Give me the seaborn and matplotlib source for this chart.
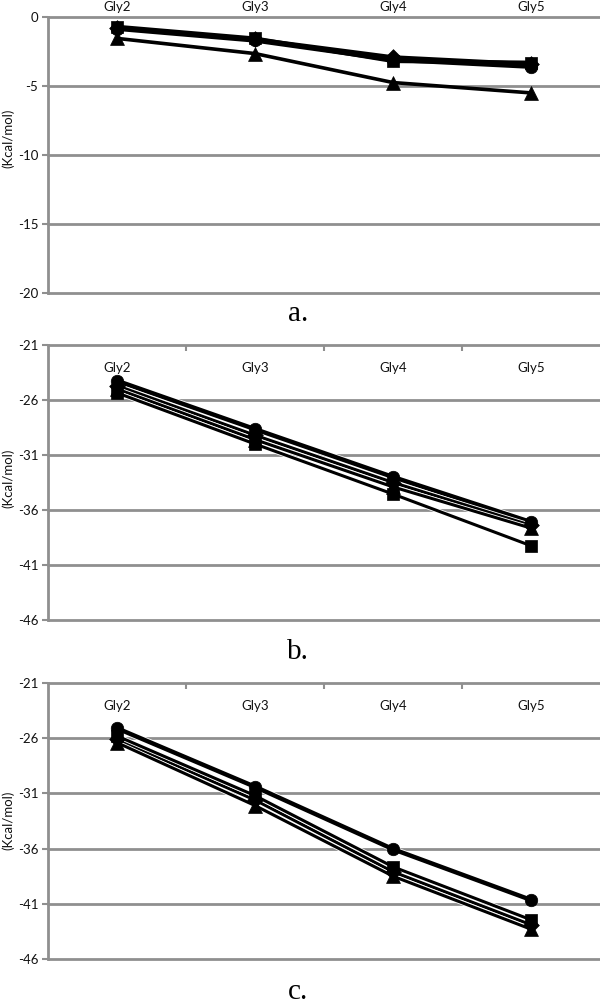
import numpy as np
import pandas as pd
import seaborn as sns
import matplotlib
matplotlib.use("Agg")
import matplotlib.pyplot as plt
import matplotlib.patheffects as pe

# ---------------- data ----------------
categories = ["Gly2", "Gly3", "Gly4", "Gly5"]

# panel a
a_circle = [-0.85, -1.70, -3.10, -3.60]
a_diamond = [-0.80, -1.60, -2.90, -3.40]
a_triangle = [-1.55, -2.65, -4.75, -5.50]
a_square = [-0.70, -1.55, -3.20, -3.30]

# panel b
b_circle = [-24.25, -28.65, -33.00, -37.10]
b_diamond = [-24.70, -29.20, -33.50, -37.40]
b_triangle = [-25.00, -29.60, -33.90, -37.65]
b_square = [-25.35, -30.00, -34.55, -39.25]

# panel c
c_circle = [-25.10, -30.40, -36.05, -40.65]
c_square = [-25.80, -31.20, -37.65, -42.45]
c_diamond = [-26.10, -31.60, -38.10, -42.90]
c_triangle = [-26.40, -32.10, -38.50, -43.30]

a_ticks = [0, -5, -10, -15, -20]
bc_ticks = [-21, -26, -31, -36, -41, -46]
panel_letters = ["a.", "b.", "c."]
y_title = "(Kcal/mol)"

sns.set_theme(style="white")
plt.rcParams["font.family"] = ["Lato", "DejaVu Sans"]

W, H = 600, 1008
fig = plt.figure(figsize=(W / 100, H / 100), dpi=100)

GRID = "#8f8f8f"

def fy(px):
    return 1 - px / H

panels = [
    dict(top=17, bot=293, ticks=a_ticks,
         series=[("o", a_circle, 3.2, 9), ("D", a_diamond, 2.6, 8), ("^", a_triangle, 2.6, 10), ("s", a_square, 2.8, 9)],
         inside=False, letter_y=314, ylab_y=138, halo=False),
    dict(top=345, bot=620, ticks=bc_ticks,
         series=[("o", b_circle, 3.2, 9), ("D", b_diamond, 2.2, 8), ("^", b_triangle, 2.2, 10), ("s", b_square, 2.2, 9)],
         inside=True, letter_y=652, ylab_y=478, halo=True),
    dict(top=683, bot=959, ticks=bc_ticks,
         series=[("o", c_circle, 3.2, 9), ("D", c_diamond, 2.2, 8), ("^", c_triangle, 2.2, 10), ("s", c_square, 2.2, 9)],
         inside=True, letter_y=992, ylab_y=820, halo=True),
]

for i, p in enumerate(panels):
    ax = fig.add_axes([48 / W, fy(p["bot"]), 1 - 48 / W, (p["bot"] - p["top"]) / H])
    # lines first
    for marker, vals, lw, ms in p["series"]:
        df = pd.DataFrame({"cat": categories, "val": vals})
        effects = ([pe.Stroke(linewidth=lw + 1.2, foreground="white"), pe.Normal()]
                   if p["halo"] else None)
        sns.lineplot(data=df, x="cat", y="val", ax=ax, color="black", lw=lw, sort=False,
                     path_effects=effects)
    # markers on top
    for marker, vals, lw, ms in p["series"]:
        df = pd.DataFrame({"cat": categories, "val": vals})
        sns.scatterplot(data=df, x="cat", y="val", ax=ax, color="black", marker=marker,
                        s=ms ** 2, edgecolor="black", linewidth=0.5, zorder=5)
    ax.set_xlim(-0.5, 3.5)
    ax.set_ylim(min(p["ticks"]), max(p["ticks"]))
    ax.set_yticks(p["ticks"])
    ax.set_yticklabels([str(t) for t in p["ticks"]])
    ax.set_xlabel("")
    ax.set_ylabel("")
    ax.grid(False)
    ax.yaxis.grid(True, color=GRID, lw=2.0)
    ax.set_axisbelow(True)
    for gl in ax.get_ygridlines():
        gl.set_clip_on(False)
    for s in ["top", "right", "bottom"]:
        ax.spines[s].set_visible(False)
    ax.spines["left"].set_color(GRID)
    ax.spines["left"].set_linewidth(2.0)
    ax.tick_params(axis="y", left=True, length=4, width=1.5, color=GRID,
                   labelsize=9.5, labelcolor="#111111", pad=3)
    ax.set_xticks(range(len(categories)))
    ax.set_xticklabels(categories)
    ax.xaxis.set_ticks_position("top")
    if p["inside"]:
        ax.tick_params(axis="x", which="major", top=True, bottom=False, labeltop=True,
                       labelbottom=False, length=0, pad=-21, labelsize=9.5, labelcolor="#111111")
        ax.set_xticks([0.5, 1.5, 2.5], minor=True)
        ax.tick_params(axis="x", which="minor", top=True, bottom=False, direction="in",
                       length=4, width=1.5, color=GRID)
    else:
        ax.tick_params(axis="x", which="major", top=True, bottom=False, labeltop=True,
                       labelbottom=False, length=0, pad=3, labelsize=9.5, labelcolor="#111111")
    fig.text(8 / W, fy(p["ylab_y"]), y_title, rotation=90, ha="center", va="center",
             fontsize=9.5, color="#111111")
    fig.text(298 / W, fy(p["letter_y"]), panel_letters[i], ha="center", va="center",
             fontsize=21, family=["Liberation Serif", "DejaVu Serif"], color="black")

fig.savefig("out.png", dpi=100)
